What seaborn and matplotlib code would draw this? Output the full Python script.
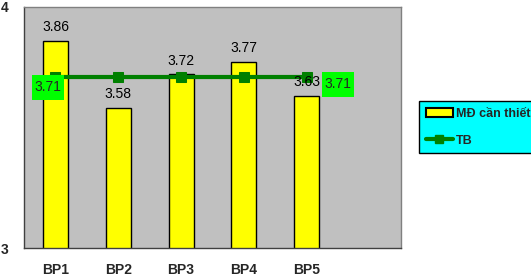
import matplotlib
matplotlib.use("Agg")
import matplotlib.pyplot as plt
import seaborn as sns
import numpy as np
import pandas as pd
from matplotlib.patches import Patch
from matplotlib.lines import Line2D

categories = ["BP1", "BP2", "BP3", "BP4", "BP5"]
md_values = [3.86, 3.58, 3.72, 3.77, 3.63]
tb_values = [3.71, 3.71, 3.71, 3.71, 3.71]
bar_label = "MĐ cần thiết"
line_label = "TB"

sns.set_style("white")
plt.rcParams['font.family'] = ['Liberation Sans', 'DejaVu Sans']

fig = plt.figure(figsize=(5.31, 2.77), dpi=100)
fig.patch.set_facecolor("white")
ax = fig.add_axes([24/531, 1 - 248/277, (401 - 24)/531, (248 - 7)/277])
ax.set_facecolor("#C0C0C0")

df = pd.DataFrame({"cat": categories, "md": md_values})
sns.barplot(data=df, x="cat", y="md", order=categories, color="#FFFF00",
            width=0.4, edgecolor="black", linewidth=1, saturation=1, ax=ax)

pos = np.arange(len(categories))
sns.lineplot(x=pos, y=tb_values, color="#008000", linewidth=3, marker="s",
             markersize=7, markeredgecolor="#008000", ax=ax)

ax.set_xlim(-0.5, 5.5)
ax.set_ylim(3, 4)
ax.set_yticks([3, 4])
ax.set_yticklabels(["3", "4"], fontweight="bold", fontsize=10)
ax.set_xticks(pos)
ax.set_xticklabels(categories, fontweight="bold", fontsize=10)
ax.set_xticks(np.arange(-0.5, 6, 1), minor=True)
ax.tick_params(axis="x", which="major", length=0, pad=11)
ax.tick_params(axis="x", which="minor", length=5, width=0.8, color="#404040", direction="out")
ax.tick_params(axis="y", which="major", length=5, width=0.8, color="#404040", direction="out", pad=6)
ax.set_xlabel("")
ax.set_ylabel("")
if ax.get_legend():
    ax.get_legend().remove()

for s in ["top", "right"]:
    ax.spines[s].set_color("#808080")
    ax.spines[s].set_linewidth(1)
for s in ["left", "bottom"]:
    ax.spines[s].set_color("#404040")
    ax.spines[s].set_linewidth(1)

for i, v in enumerate(md_values):
    ax.annotate(f"{v:.2f}", (pos[i], v), xytext=(0, 5), textcoords="offset points",
                ha="center", va="bottom", fontsize=10, color="black")

bbox = dict(boxstyle="square,pad=0.18", facecolor="#00FF00", edgecolor="none",
            mutation_aspect=2.2)
ax.annotate(f"{tb_values[0]:.2f}", (pos[0], tb_values[0]), xytext=(-5.6, -7.6),
            textcoords="offset points", ha="center", va="center", fontsize=10, bbox=bbox)
ax.annotate(f"{tb_values[-1]:.2f}", (pos[-1], tb_values[-1]), xytext=(22.3, -5.4),
            textcoords="offset points", ha="center", va="center", fontsize=10, bbox=bbox)

handles = [Patch(facecolor="#FFFF00", edgecolor="black", linewidth=1.5),
           Line2D([0], [0], color="#008000", linewidth=3, marker="s", markersize=6)]
leg = fig.legend(handles, [bar_label, line_label], loc="center left",
                 bbox_to_anchor=(413/531, 1 - 127/277), frameon=True, fancybox=False,
                 facecolor="#00FFFF", edgecolor="black", framealpha=1,
                 prop={"weight": "bold", "size": 9}, handlelength=2.2, handletextpad=0.2,
                 labelspacing=1.2, borderpad=0.5)
leg.get_frame().set_linewidth(1)

fig.savefig("out.png", dpi=100)
